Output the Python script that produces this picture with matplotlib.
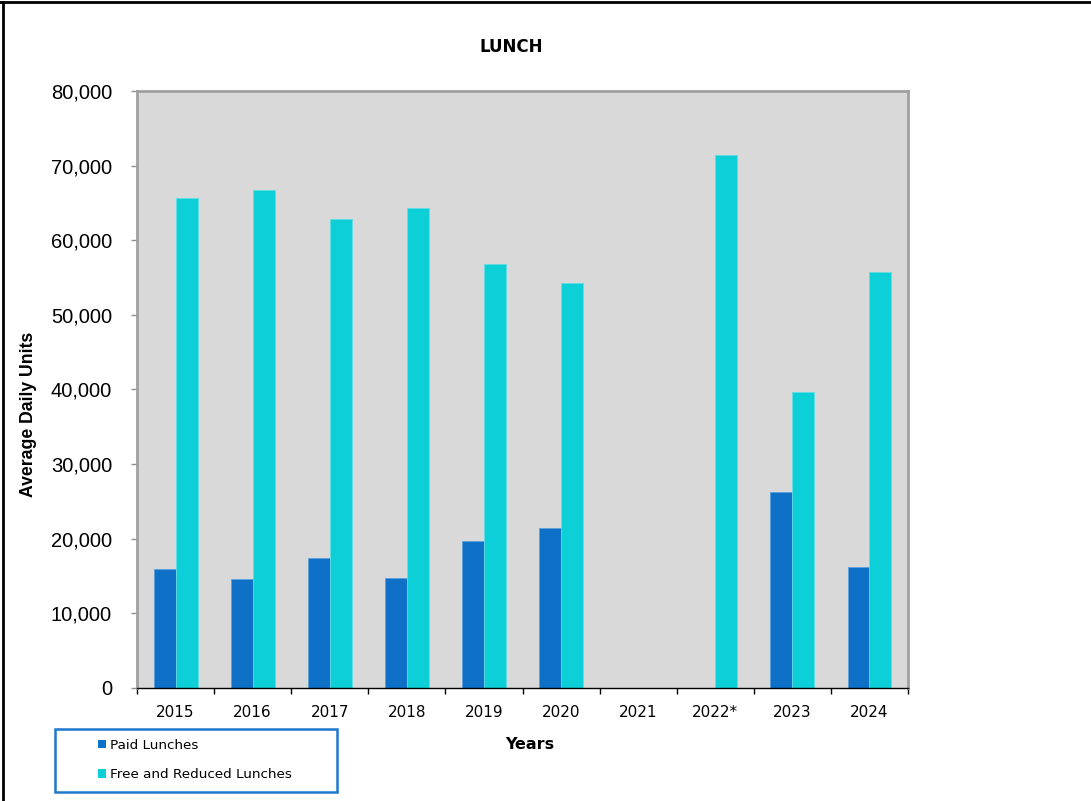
import numpy as np
import matplotlib.pyplot as plt
from matplotlib.patches import Rectangle, Patch
from matplotlib.lines import Line2D
from matplotlib.ticker import FixedLocator

# Average daily lunch units by year
years = ["2015", "2016", "2017", "2018", "2019", "2020", "2021", "2022*", "2023", "2024"]
paid_lunches = [15900, 14600, 17400, 14700, 19700, 21400, 0, 0, 26300, 16200]
free_reduced_lunches = [65600, 66700, 62800, 64300, 56800, 54300, 0, 71400, 39700, 55700]
y_ticks = list(range(0, 80001, 10000))

paid_color = "#0e70c6"
free_color = "#0ccfd8"

fig = plt.figure(figsize=(10.91, 8.01), dpi=100)
ax = fig.add_axes([0.1256, 0.1411, 0.7067, 0.7453])
ax.set_facecolor("#d9d9d9")

x = np.arange(len(years))
w = 0.285
ax.bar(x - w / 2, paid_lunches, width=w, color=paid_color, edgecolor="#5aa0dc", linewidth=0.6)
ax.bar(x + w / 2, free_reduced_lunches, width=w, color=free_color, edgecolor="#5fdde3", linewidth=0.6)

ax.set_xlim(-0.5, len(years) - 0.5)
ax.set_ylim(0, 80000)

# y axis
ax.set_yticks(y_ticks)
ax.set_yticklabels([f"{v:,}" for v in y_ticks], fontsize=14.5, family="Liberation Sans")
ax.tick_params(axis="y", direction="out", length=4, width=1, color="#909090", pad=14)

# x axis: labels centred, ticks on category boundaries
ax.set_xticks(x)
ax.set_xticklabels(years, fontsize=11)
ax.tick_params(axis="x", which="major", length=0, pad=12)
ax.xaxis.set_minor_locator(FixedLocator(np.arange(-0.5, len(years), 1)))
ax.tick_params(axis="x", which="minor", direction="out", length=4.5, width=1, color="black")

for side in ["left", "top", "right"]:
    ax.spines[side].set_color("#a0a0a0")
    ax.spines[side].set_linewidth(2)
ax.spines["bottom"].set_color("black")
ax.spines["bottom"].set_linewidth(1)

fig.text(0.469, 0.941, "LUNCH", ha="center", va="center", fontsize=12, fontweight="bold")
fig.text(0.026, 0.483, "Average Daily Units", rotation=90, ha="center", va="center",
         fontsize=12.7, fontweight="bold", family="Liberation Sans")
fig.text(0.486, 0.071, "Years", ha="center", va="center", fontsize=11.5, fontweight="bold")

# legend box
fig.patches.append(Rectangle((0.0504, 0.0112), 0.2585, 0.0787, transform=fig.transFigure,
                             fill=False, edgecolor="#1f78d0", linewidth=1.8))
handles = [Patch(facecolor=paid_color), Patch(facecolor=free_color)]
fig.legend(handles, ["Paid Lunches", "Free and Reduced Lunches"], loc="upper left",
           bbox_to_anchor=(0.079, 0.093), frameon=False, fontsize=9.7,
           handlelength=0.6, handleheight=0.6, handletextpad=0.3, labelspacing=1.25)

# outer frame lines
fig.add_artist(Line2D([0.0, 1.0], [0.9975, 0.9975], transform=fig.transFigure, color="black", lw=2))
fig.add_artist(Line2D([0.003, 0.003], [0.0, 0.9975], transform=fig.transFigure, color="black", lw=2))

fig.savefig("out.png", dpi=100, facecolor="white")
